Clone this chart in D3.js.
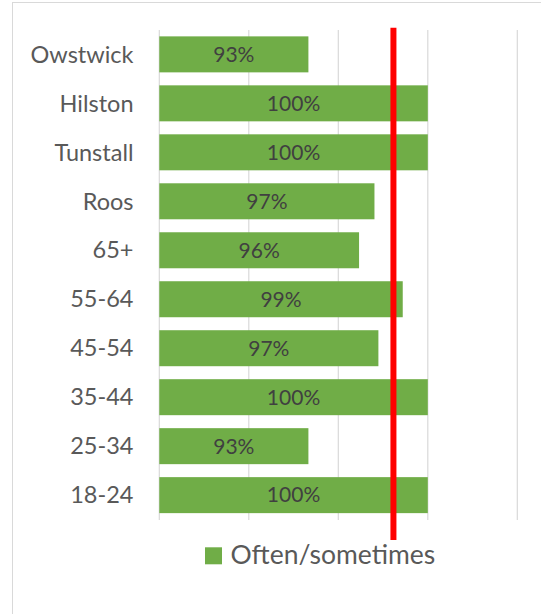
<!DOCTYPE html>
<html>
<head>
<meta charset="utf-8">
<script src="https://cdn.jsdelivr.net/npm/d3@7"></script>
<style>
  html, body { margin: 0; padding: 0; background: #fff; }
  svg { display: block; }
  text { font-family: Lato, "Open Sans", "Noto Sans", sans-serif; }
</style>
</head>
<body>
<svg id="chart" width="541" height="614"></svg>
<script>
const categories = ["Owstwick", "Hilston", "Tunstall", "Roos", "65+", "55-64", "45-54", "35-44", "25-34", "18-24"];
const values = [0.9333, 1.0, 1.0, 0.9702, 0.9616, 0.986, 0.9724, 1.0, 0.9333, 1.0];
const seriesName = "Often/sometimes";
const gridTicks = [0.85, 0.90, 0.95, 1.00, 1.05];
const referenceValue = 0.9808;

const svg = d3.select("#chart");

// chart frame (cropped on right/bottom)
svg.append("rect")
  .attr("x", 12.5).attr("y", 2.5)
  .attr("width", 600).attr("height", 700)
  .attr("fill", "#fff").attr("stroke", "#d9d9d9").attr("stroke-width", 1);

const x = d3.scaleLinear().domain([0.85, 1.05]).range([159.3, 517.3]);
const y = d3.scaleBand().domain(categories).range([30, 519.5]).paddingInner(0.265).paddingOuter(0.13);

// gridlines
svg.append("g").selectAll("line").data(gridTicks).join("line")
  .attr("x1", d => x(d)).attr("x2", d => x(d))
  .attr("y1", 30).attr("y2", 520)
  .attr("stroke", "#d9d9d9").attr("stroke-width", 1.2);

// bars
svg.append("g").selectAll("rect").data(categories).join("rect")
  .attr("x", x(0.85))
  .attr("y", d => y(d))
  .attr("width", (d, i) => x(values[i]) - x(0.85))
  .attr("height", y.bandwidth())
  .attr("fill", "#70ad47");

// data labels
const fmt = d3.format(".0%");
svg.append("g").selectAll("text").data(categories).join("text")
  .attr("x", (d, i) => (x(0.85) + x(values[i])) / 2)
  .attr("y", d => y(d) + y.bandwidth() / 2)
  .attr("dy", "0.35em")
  .attr("text-anchor", "middle")
  .attr("font-size", 21)
  .attr("fill", "#404040")
  .text((d, i) => fmt(values[i]));

// category labels
svg.append("g").selectAll("text").data(categories).join("text")
  .attr("x", 133.5)
  .attr("y", d => y(d) + y.bandwidth() / 2)
  .attr("dy", "0.35em")
  .attr("text-anchor", "end")
  .attr("font-size", 23.5)
  .attr("fill", "#595959")
  .text(d => d);

// reference line
svg.append("line")
  .attr("x1", x(referenceValue)).attr("x2", x(referenceValue))
  .attr("y1", 27.7).attr("y2", 540)
  .attr("stroke", "#ff0000").attr("stroke-width", 6);

// legend
const legend = svg.append("g");
legend.append("rect")
  .attr("x", 205).attr("y", 547.3).attr("width", 17).attr("height", 17)
  .attr("fill", "#70ad47");
legend.append("text")
  .attr("x", 230.5).attr("y", 564.3)
  .attr("font-size", 26.5)
  .attr("fill", "#595959")
  .text(seriesName);
</script>
</body>
</html>
